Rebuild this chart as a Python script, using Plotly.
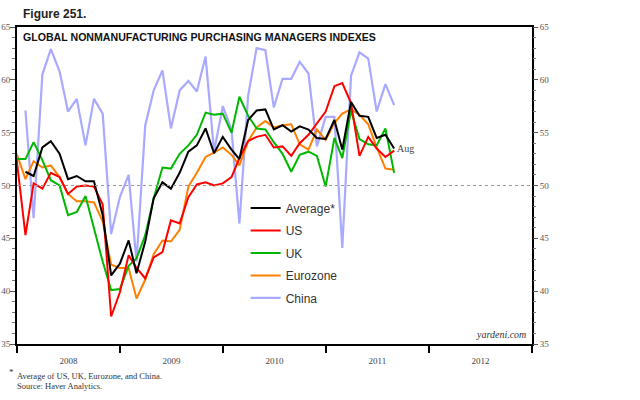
import pandas as pd
import plotly.graph_objects as go

# Monthly PMI readings, Dec 2007 - Aug 2011 (China and average start Jan 2008)
months = pd.date_range("2007-12-01", "2011-08-01", freq="MS")

us = [52.4, 45.3, 50.2, 49.7, 51.2, 50.8, 49.2, 49.9, 50.0, 49.9, 48.2, 37.6, 39.9,
      43.4, 42.2, 41.2, 43.2, 43.7, 46.7, 46.4, 48.9, 50.1, 50.3, 50.0, 50.2,
      50.8, 52.6, 54.2, 54.6, 54.8, 53.6, 53.7, 52.8, 54.0, 54.8, 55.9, 57.0,
      59.4, 59.7, 57.8, 52.8, 54.6, 53.5, 52.7, 53.3]
uk = [52.5, 52.5, 54.1, 52.4, 50.5, 50.0, 47.2, 47.5, 49.0, 46.0, 42.8, 40.1, 40.2,
      42.4, 43.1, 45.3, 48.8, 51.7, 51.6, 53.0, 53.8, 54.8, 56.9, 56.7, 56.8,
      55.0, 58.4, 56.6, 55.4, 55.3, 54.1, 53.0, 51.3, 52.9, 53.2, 52.8, 49.9,
      54.5, 52.6, 57.1, 54.4, 53.9, 53.8, 55.4, 51.2]
eurozone = [53.0, 50.6, 52.3, 51.7, 51.9, 50.8, 49.2, 48.5, 48.5, 48.4, 46.6, 42.5, 42.2,
            42.2, 39.3, 41.1, 43.5, 44.8, 44.7, 45.8, 49.9, 51.2, 52.7, 53.1, 53.6,
            52.9, 51.9, 54.2, 55.5, 56.1, 55.5, 55.7, 55.8, 53.9, 53.4, 55.3, 54.3,
            55.9, 56.8, 57.2, 56.7, 55.8, 53.6, 51.6, 51.5]
china = [None, 57.1, 46.9, 60.5, 62.9, 60.8, 57.0, 58.2, 53.8, 58.2, 56.8, 45.4, 48.9,
         51.0, 42.8, 55.7, 59.0, 60.9, 55.4, 59.0, 59.9, 58.9, 62.2, 53.2, 57.5,
         55.3, 46.4, 58.5, 63.0, 62.8, 57.4, 60.1, 60.1, 61.7, 60.6, 53.7, 56.5,
         56.5, 44.1, 60.4, 62.6, 62.0, 57.0, 59.6, 57.6]
average = [None, 51.3, 50.9, 53.6, 54.2, 53.0, 50.6, 50.9, 50.4, 50.4, 47.2, 41.5, 42.6,
           44.8, 41.7, 44.7, 48.8, 50.3, 49.7, 51.2, 53.2, 53.8, 55.4, 53.05, 54.6,
           53.4, 52.5, 56.2, 57.1, 57.2, 55.3, 55.7, 55.1, 55.6, 55.3, 54.5, 54.4,
           56.2, 53.4, 57.9, 56.6, 56.5, 54.5, 54.8, 53.5]

# values are plotted at month end
x = months + pd.offsets.MonthEnd(0)

series = [
    ("China", china, "#a9a9ff", 2.2, 5),
    ("Eurozone", eurozone, "#ff7f00", 2, 4),
    ("UK", uk, "#00b800", 2, 3),
    ("US", us, "#ff0000", 2, 2),
    ("Average*", average, "#000000", 2, 1),
]

fig = go.Figure()
for name, vals, color, w, rank in series:
    fig.add_trace(go.Scatter(x=x, y=vals, name=name, mode="lines",
                             line=dict(color=color, width=w),
                             legendrank=rank, legendgroup=name))

# invisible trace so the right-hand axis gets drawn
fig.add_trace(go.Scatter(x=x, y=average, yaxis="y2", mode="lines",
                         line=dict(width=0), showlegend=False, hoverinfo="skip"))

fig.add_hline(y=50, line=dict(color="#999999", width=1, dash="dot"))

serif = "Liberation Serif, Times New Roman, serif"
sans = "Liberation Sans, Arial, sans-serif"

axis_y = dict(range=[35, 65], dtick=5, ticks="outside", ticklen=5, tickcolor="#555",
              tickfont=dict(family=serif, size=9, color="#555"),
              minor=dict(dtick=1, ticks="outside", ticklen=3, tickcolor="#777"),
              showgrid=False, zeroline=False, automargin=False, fixedrange=True)

fig.update_layout(
    width=640, height=400,
    margin=dict(l=17, r=108, t=27, b=56),
    plot_bgcolor="white", paper_bgcolor="white",
    showlegend=True,
    legend=dict(x=0.444, y=0.475, xanchor="left", yanchor="top",
                font=dict(family=sans, size=12, color="#333"),
                tracegroupgap=3.5, bgcolor="rgba(0,0,0,0)"),
    xaxis=dict(type="date", range=["2008-01-01", "2013-01-01"],
               dtick="M12", tick0="2008-01-01", tickformat="%Y",
               ticklabelmode="period", ticks="outside", ticklen=7,
               tickwidth=1.5, tickcolor="black",
               tickfont=dict(family=serif, size=9, color="#444"),
               showline=True, linecolor="black", linewidth=2, mirror=True,
               showgrid=False, zeroline=False),
    yaxis=dict(**axis_y, side="left", showline=True, linecolor="black",
               linewidth=2, mirror=True, ticklabelstandoff=-2),
    yaxis2=dict(**axis_y, side="right", overlaying="y", showline=False),
)

fig.add_annotation(text="Figure 251.", xref="paper", yref="paper", x=0.008, y=1.04,
                   xanchor="left", yanchor="middle", showarrow=False,
                   font=dict(family=sans, size=12, color="#222", weight="bold"))
fig.add_annotation(text="GLOBAL NONMANUFACTURING PURCHASING MANAGERS INDEXES",
                   xref="paper", yref="paper", x=0.008, y=0.968,
                   xanchor="left", yanchor="middle", showarrow=False,
                   font=dict(family=sans, size=10.6, color="#111", weight="bold"))
fig.add_annotation(text="Aug", x=x[-1], y=average[-1], xanchor="left",
                   yanchor="middle", xshift=1, showarrow=False,
                   font=dict(family=serif, size=10, color="#444"))
fig.add_annotation(text="<i>yardeni.com</i>", xref="paper", yref="paper", x=0.993, y=0.005,
                   xanchor="right", yanchor="bottom", showarrow=False,
                   font=dict(family=serif, size=10, color="#333"))
fig.add_annotation(text="*", xref="paper", yref="paper", x=-0.02, y=-0.088,
                   xanchor="left", yanchor="middle", showarrow=False,
                   font=dict(family=serif, size=9, color="#333"))
fig.add_annotation(text="Average of US, UK, Eurozone, and China.",
                   xref="paper", yref="paper", x=-0.003, y=-0.101,
                   xanchor="left", yanchor="middle", showarrow=False,
                   font=dict(family=serif, size=8.5, color="#333"))
fig.add_annotation(text="Source: Haver Analytics.",
                   xref="paper", yref="paper", x=-0.003, y=-0.133,
                   xanchor="left", yanchor="middle", showarrow=False,
                   font=dict(family=serif, size=8.5, color="#333"))

# drop the browser's default page margin so the figure sits at the window corner
fig.write_html("out.html", config={"displayModeBar": False},
               post_script="document.body.style.margin='0';")
